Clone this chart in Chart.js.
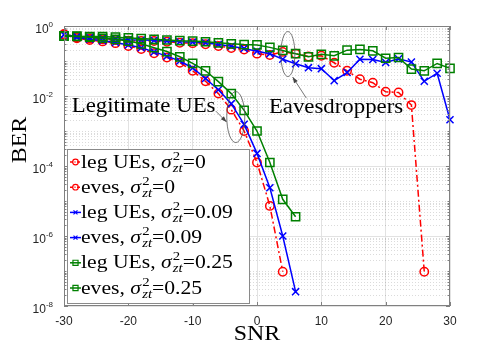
<!DOCTYPE html>
<html>
<head>
<meta charset="utf-8">
<script src="https://cdn.jsdelivr.net/npm/chart.js@4.4.1/dist/chart.umd.min.js"></script>
<style>
  html, body { margin: 0; padding: 0; background: #fff; }
  #wrap { width: 498px; height: 345px; }
</style>
</head>
<body>
<div id="wrap"><canvas id="berChart" width="498" height="345"></canvas></div>
<script>
// SNR grids (dB)
const snrLeg0 = [-30, -28, -26, -24, -22, -20, -18, -16, -14, -12, -10, -8, -6, -4, -2, 0, 2, 4];
const snrLeg = [-30, -28, -26, -24, -22, -20, -18, -16, -14, -12, -10, -8, -6, -4, -2, 0, 2, 4, 6];
const snrEves0 = [-30, -28, -26, -24, -22, -20, -18, -16, -14, -12, -10, -8, -6, -4, -2, 0, 2, 4, 6, 8, 10, 12, 14, 16, 18, 20, 22, 24, 26];
const snrEves = [-30, -28, -26, -24, -22, -20, -18, -16, -14, -12, -10, -8, -6, -4, -2, 0, 2, 4, 6, 8, 10, 12, 14, 16, 18, 20, 22, 24, 26, 28, 30];

// BER
const berLeg0 = [0.562, 0.447, 0.398, 0.363, 0.324, 0.269, 0.219, 0.166, 0.126, 0.0891, 0.0525, 0.0263, 0.0117, 0.00407, 0.001, 1.26e-4, 7.24e-6, 9.55e-8];
const berEves0 = [0.589, 0.479, 0.437, 0.417, 0.398, 0.380, 0.372, 0.372, 0.355, 0.331, 0.324, 0.302, 0.269, 0.234, 0.214, 0.162, 0.148, 0.182, 0.162, 0.135, 0.141, 0.0891, 0.0525, 0.0302, 0.0240, 0.0132, 0.0126, 0.0055, 9.55e-8];
const berLeg09 = [0.562, 0.468, 0.417, 0.380, 0.339, 0.288, 0.240, 0.182, 0.138, 0.1, 0.0631, 0.0316, 0.0151, 0.00603, 0.00155, 2.29e-4, 2.40e-5, 1e-6, 2.57e-8];
const berEves09 = [0.562, 0.501, 0.468, 0.447, 0.427, 0.407, 0.398, 0.389, 0.372, 0.355, 0.347, 0.331, 0.295, 0.263, 0.229, 0.191, 0.162, 0.112, 0.0832, 0.0646, 0.0603, 0.0275, 0.0468, 0.112, 0.110, 0.0912, 0.115, 0.0933, 0.0263, 0.0447, 0.00209];
const berLeg25 = [0.525, 0.501, 0.479, 0.447, 0.417, 0.372, 0.309, 0.240, 0.186, 0.132, 0.0851, 0.0525, 0.0257, 0.0117, 0.00389, 0.001, 1.26e-4, 1.12e-5, 3.55e-6];
const berEves25 = [0.513, 0.513, 0.501, 0.501, 0.479, 0.457, 0.437, 0.417, 0.398, 0.380, 0.372, 0.355, 0.331, 0.309, 0.295, 0.288, 0.245, 0.200, 0.162, 0.132, 0.155, 0.141, 0.204, 0.214, 0.195, 0.120, 0.126, 0.0589, 0.0525, 0.0851, 0.0617];

const seriesNames = ["leg UEs", "eves", "leg UEs", "eves", "leg UEs", "eves"];
const sigmaValues = ["0", "0", "0.09", "0.09", "0.25", "0.25"];

const xTicks = [-30, -20, -10, 0, 10, 20, 30];
const yTickExps = [0, -2, -4, -6, -8];

const RED = "#ff0000", BLUE = "#0000ff", GREEN = "#008000";
const serif = '"Liberation Serif", "DejaVu Serif", serif';
const sans = '"Liberation Sans", Arial, sans-serif';
const STRETCH = 1.14; // Times is narrower than the LaTeX font of the original

function pts(xs, ys) {
    return xs.map((x, i) => ({ x: x, y: ys[i] }));
}

function makeSet(i, xs, ys, color, marker, radius, dash) {
    return {
        label: seriesNames[i] + ", σ²zt=" + sigmaValues[i],
        data: pts(xs, ys),
        borderColor: color,
        backgroundColor: "rgba(0,0,0,0)",
        borderWidth: 1.5,
        borderDash: dash,
        pointStyle: marker,
        pointRadius: radius,
        pointBorderWidth: 1.5,
        pointBorderColor: color,
        pointBackgroundColor: "rgba(0,0,0,0)",
        tension: 0,
        clip: false,
        order: 5 - i
    };
}

const datasets = [
    makeSet(0, snrLeg0, berLeg0, RED, "circle", 4.2, [7, 3, 2, 3]),
    makeSet(1, snrEves0, berEves0, RED, "circle", 4.2, [7, 3, 2, 3]),
    makeSet(2, snrLeg, berLeg09, BLUE, "crossRot", 5, []),
    makeSet(3, snrEves, berEves09, BLUE, "crossRot", 5, []),
    makeSet(4, snrLeg, berLeg25, GREEN, "rect", 5.8, []),
    makeSet(5, snrEves, berEves25, GREEN, "rect", 5.8, [])
];

/* ---------- drawing helpers ---------- */

function wideText(c, text, x, y) {
    c.save();
    c.translate(x, y);
    c.scale(STRETCH, 1);
    c.fillText(text, 0, 0);
    c.restore();
}

function drawRich(c, x0, y0, name, val) {
    c.save();
    c.translate(x0, y0);
    c.scale(STRETCH, 1);
    c.textAlign = "left";
    c.textBaseline = "alphabetic";
    c.fillStyle = "#000";
    let x = 0;
    c.font = "19px " + serif;
    const t = name + ", ";
    c.fillText(t, x, 0);
    x += c.measureText(t).width;
    c.font = "italic 19px " + serif;
    c.fillText("σ", x, 0);
    x += c.measureText("σ").width + 1;
    c.font = "13px " + serif;
    c.fillText("2", x, -8);
    const w2 = c.measureText("2").width;
    c.font = "italic 13px " + serif;
    c.fillText("zt", x, 4);
    x += Math.max(w2, c.measureText("zt").width);
    c.font = "19px " + serif;
    c.fillText("=" + val, x, 0);
    c.restore();
}

function arrow(c, x1, y1, x2, y2) {
    c.beginPath();
    c.moveTo(x1, y1);
    c.lineTo(x2, y2);
    c.stroke();
    const a = Math.atan2(y2 - y1, x2 - x1);
    c.beginPath();
    c.moveTo(x2, y2);
    c.lineTo(x2 - 6 * Math.cos(a) + 2.2 * Math.sin(a), y2 - 6 * Math.sin(a) - 2.2 * Math.cos(a));
    c.lineTo(x2 - 6 * Math.cos(a) - 2.2 * Math.sin(a), y2 - 6 * Math.sin(a) + 2.2 * Math.cos(a));
    c.closePath();
    c.fill();
}

const matlabAxes = {
    id: "matlabAxes",
    beforeDatasetsDraw(chart) {
        const c = chart.ctx, ca = chart.chartArea, ys = chart.scales.y;
        // dotted minor grid
        c.save();
        c.strokeStyle = "rgba(0,0,0,0.18)";
        c.lineWidth = 0.8;
        c.setLineDash([1, 2]);
        for (let d = -8; d < 0; d++) {
            for (let k = 1; k < 10; k++) {
                if (k === 1 && d % 2 === 0) continue;
                const py = Math.round(ys.getPixelForValue(k * Math.pow(10, d))) + 0.5;
                c.beginPath();
                c.moveTo(ca.left, py);
                c.lineTo(ca.right, py);
                c.stroke();
            }
        }
        c.restore();
    },
    afterDatasetsDraw(chart) {
        const c = chart.ctx, ca = chart.chartArea, xs = chart.scales.x, ys = chart.scales.y;
        c.save();

        // annotations
        c.strokeStyle = "#555";
        c.fillStyle = "#444";
        c.lineWidth = 0.8;
        c.beginPath();
        c.ellipse(xs.getPixelForValue(-3.3), ys.getPixelForValue(2.5e-3), 9, 25.5, 0, 0, Math.PI * 2);
        c.stroke();
        c.beginPath();
        c.ellipse(xs.getPixelForValue(4.8), ys.getPixelForValue(0.158), 7, 22.5, 0, 0, Math.PI * 2);
        c.stroke();
        arrow(c, xs.getPixelForValue(-6.4), ys.getPixelForValue(3.7e-3), xs.getPixelForValue(-4.73), ys.getPixelForValue(1.8e-3));
        arrow(c, xs.getPixelForValue(7.67), ys.getPixelForValue(8.7e-3), xs.getPixelForValue(5.54), ys.getPixelForValue(0.0348));

        c.fillStyle = "#000";
        c.font = "20px " + serif;
        c.textAlign = "left";
        c.textBaseline = "alphabetic";
        wideText(c, "Legitimate UEs", xs.getPixelForValue(-28.8), ys.getPixelForValue(3.47e-3));
        wideText(c, "Eavesdroppers", xs.getPixelForValue(1.85), ys.getPixelForValue(3.2e-3));

        // box and tick marks
        c.strokeStyle = "#808080";
        c.lineWidth = 1;
        c.strokeRect(ca.left + 0.5, ca.top + 0.5, ca.width - 1, ca.height - 1);
        c.beginPath();
        xTicks.forEach(v => {
            const px = Math.round(xs.getPixelForValue(v)) + 0.5;
            c.moveTo(px, ca.bottom); c.lineTo(px, ca.bottom - 4);
            c.moveTo(px, ca.top); c.lineTo(px, ca.top + 4);
        });
        for (let d = -8; d <= 0; d++) {
            for (let k = 1; k < 10; k++) {
                if (d === 0 && k > 1) break;
                const py = Math.round(ys.getPixelForValue(k * Math.pow(10, d))) + 0.5;
                const len = (k === 1 && d % 2 === 0) ? 4 : 2.5;
                c.moveTo(ca.left, py); c.lineTo(ca.left + len, py);
                c.moveTo(ca.right, py); c.lineTo(ca.right - len, py);
            }
        }
        c.stroke();

        // tick labels
        c.fillStyle = "#262626";
        c.font = "12px " + sans;
        c.textAlign = "center";
        c.textBaseline = "top";
        xTicks.forEach(v => c.fillText(String(v), xs.getPixelForValue(v), ca.bottom + 10));
        c.textBaseline = "alphabetic";
        yTickExps.forEach(e => {
            const py = ys.getPixelForValue(Math.pow(10, e));
            c.font = "8px " + sans;
            const sup = String(e);
            const ws = c.measureText(sup).width;
            const right = ca.left - 11;
            c.textAlign = "left";
            c.fillText(sup, right - ws, py + 1);
            c.font = "12px " + sans;
            c.textAlign = "right";
            c.fillText("10", right - ws, py + 7);
        });

        // axis titles
        c.fillStyle = "#000";
        c.font = "21px " + serif;
        c.textAlign = "center";
        wideText(c, "SNR", (ca.left + ca.right) / 2, 340);
        c.save();
        c.translate(26, 140);
        c.rotate(-Math.PI / 2);
        wideText(c, "BER", 0, 0);
        c.restore();

        // legend
        const lx = ca.left + 3, lw = 182, lh = 154, ly = ca.bottom - 3 - lh;
        c.fillStyle = "#fff";
        c.fillRect(lx, ly, lw, lh);
        c.strokeStyle = "#8a8a8a";
        c.lineWidth = 1;
        c.strokeRect(lx + 0.5, ly + 0.5, lw, lh);
        chart.data.datasets.forEach((ds, i) => {
            const cy = ly + 13 + i * 25.2;
            c.save();
            c.strokeStyle = ds.borderColor;
            c.fillStyle = "rgba(0,0,0,0)";
            c.lineWidth = 1.5;
            c.setLineDash(ds.borderDash.length ? [3, 1.5, 1, 1.5] : []);
            c.beginPath();
            c.moveTo(lx + 3, cy); c.lineTo(lx + 14, cy);
            c.stroke();
            c.setLineDash([]);
            c.lineWidth = 1.2;
            Chart.helpers.drawPoint(c, { pointStyle: ds.pointStyle, radius: ds.pointStyle === "rect" ? 3.6 : 2.8, borderWidth: 1.2 }, lx + 8.5, cy);
            c.restore();
            drawRich(c, lx + 14, cy + 5.5, seriesNames[i], sigmaValues[i]);
        });

        c.restore();
    }
};

const ctx = document.getElementById("berChart").getContext("2d");

const chart = new Chart(ctx, {
    type: "line",
    data: { datasets: datasets },
    options: {
        responsive: false,
        animation: false,
        devicePixelRatio: 1,
        layout: { padding: { left: 64, right: 48, top: 26, bottom: 39 } },
        plugins: {
            legend: { display: false },
            tooltip: { enabled: false }
        },
        scales: {
            x: {
                type: "linear",
                min: -30,
                max: 30,
                ticks: { display: false, stepSize: 10 },
                grid: { color: "#e2e2e2", drawTicks: false },
                border: { display: false },
                afterFit: s => { s.height = 0; }
            },
            y: {
                type: "logarithmic",
                min: 1e-8,
                max: 1,
                ticks: { display: false },
                afterBuildTicks: s => { s.ticks = yTickExps.map(e => ({ value: Math.pow(10, e) })); },
                grid: { color: "#e2e2e2", drawTicks: false },
                border: { display: false },
                afterFit: s => { s.width = 0; }
            }
        }
    },
    plugins: [matlabAxes]
});
</script>
</body>
</html>
